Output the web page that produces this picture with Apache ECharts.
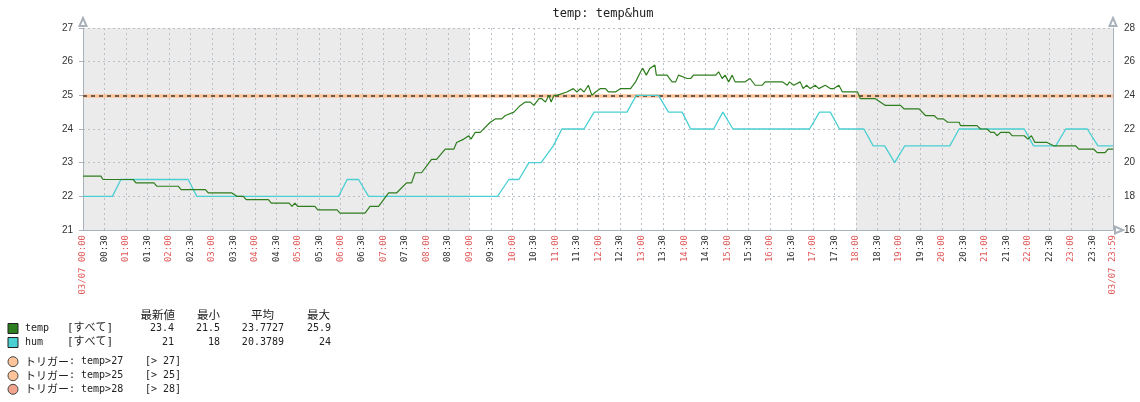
<!DOCTYPE html>
<html>
<head>
<meta charset="utf-8">
<script src="https://cdn.jsdelivr.net/npm/echarts@6/dist/echarts.min.js"></script>
<style>
html,body{margin:0;padding:0;background:#fff;}
#chart{width:1140px;height:402px;}
</style>
</head>
<body>
<div id="chart"></div>
<script>
// ---- data (minutes from 03/07 00:00) ----
const titleText = 'temp: temp&hum';
const tempMinutes = [0,25,28,70,74,99,103,133,137,171,175,208,215,224,228,259,263,288,292,296,300,324,328,355,359,394,401,413,420,427,438,452,459,464,473,487,494,506,518,522,532,539,542,548,555,569,576,585,590,602,611,618,625,630,637,641,646,651,654,658,662,676,685,690,695,700,706,711,716,723,730,734,744,751,765,772,779,782,787,792,799,801,816,823,828,832,844,849,853,884,888,893,897,902,907,911,916,925,932,939,949,953,977,984,987,993,1002,1006,1011,1016,1023,1028,1037,1044,1049,1056,1061,1082,1086,1107,1121,1142,1147,1168,1177,1189,1194,1202,1208,1224,1226,1249,1254,1263,1268,1273,1277,1282,1294,1298,1315,1320,1325,1330,1347,1356,1387,1391,1412,1417,1428,1432,1439];
const tempValues  = [22.6,22.6,22.5,22.5,22.4,22.4,22.3,22.3,22.2,22.2,22.1,22.1,22.0,22.0,21.9,21.9,21.8,21.8,21.7,21.8,21.7,21.7,21.6,21.6,21.5,21.5,21.7,21.7,21.9,22.1,22.1,22.4,22.4,22.7,22.7,23.1,23.1,23.4,23.4,23.6,23.7,23.8,23.7,23.9,23.9,24.2,24.3,24.3,24.4,24.5,24.7,24.8,24.8,24.7,24.9,24.9,24.8,25.0,24.8,25.0,25.0,25.1,25.2,25.1,25.2,25.1,25.3,25.0,25.1,25.2,25.2,25.1,25.1,25.2,25.2,25.4,25.7,25.8,25.6,25.8,25.9,25.6,25.6,25.4,25.4,25.6,25.5,25.5,25.6,25.6,25.7,25.5,25.6,25.4,25.6,25.4,25.4,25.4,25.5,25.3,25.3,25.4,25.4,25.3,25.4,25.3,25.4,25.2,25.3,25.2,25.3,25.2,25.3,25.2,25.2,25.3,25.1,25.1,24.9,24.9,24.7,24.7,24.6,24.6,24.4,24.4,24.3,24.3,24.2,24.2,24.1,24.1,24.0,24.0,23.9,23.9,23.8,23.9,23.9,23.8,23.8,23.7,23.8,23.6,23.6,23.5,23.5,23.4,23.4,23.3,23.3,23.4,23.4];
const humMinutes = [0,41,53,147,159,357,369,385,399,579,595,609,623,640,657,669,700,714,760,773,804,818,837,849,881,894,908,1015,1029,1044,1057,1091,1104,1120,1134,1148,1211,1224,1315,1328,1359,1373,1403,1418,1439];
const humValues  = [18,18,19,19,18,18,19,19,18,18,19,19,20,20,21,22,22,23,23,24,24,23,23,22,22,23,22,22,23,23,22,22,21,21,20,21,21,22,22,21,21,22,22,21,21];
const offHours = [[0,540],[1080,1439]];
const triggerValues = [27,25,28];
const triggerNames = ['トリガー: temp>27','トリガー: temp>25','トリガー: temp>28'];
const triggerTags = ['[> 27]','[> 25]','[> 28]'];
const statHeaders = ['最新値','最小','平均','最大'];
const seriesNames = ['temp','hum'];
const seriesScope = ['[すべて]','[すべて]'];
const tempStats = ['23.4','21.5','23.7727','25.9'];
const humStats = ['21','18','20.3789','24'];
const dateLabel = '03/07';

// ---- styles ----
const TEMP_C = '#2E7D1E', HUM_C = '#4ACFD2';
const MONO = "'DejaVu Sans Mono','Noto Sans CJK JP',monospace";
const CJK = "'Noto Sans CJK JP',sans-serif";
const RED = '#E05A5A', DARK = '#333';
const AXIS_C = '#A9B1BA';
const trigColors = ['#FFC49A','#FFC49A','#F2A48E'];

const zip = (a,b)=>a.map((v,i)=>[v,b[i]]);
const pad = n => (n<10?'0':'')+n;
function fmtMin(v){ return pad(Math.floor(v/60))+':'+pad(v%60); }

const chart = echarts.init(document.getElementById('chart'));

// legend graphics
const g = [];
const hdrRight = [175,220,274,330];
statHeaders.forEach((h,i)=>g.push({type:'text',style:{text:h,x:hdrRight[i],y:315,align:'right',verticalAlign:'middle',font:'11.5px '+CJK,fill:'#222'}}));
const valRight = [174,220,284,331];
const rowsY = [328.5,342.5];
const rowColors = [TEMP_C, HUM_C];
const rowStats = [tempStats, humStats];
seriesNames.forEach((n,r)=>{
  const y = rowsY[r];
  g.push({type:'rect',shape:{x:8,y:y-5,width:10,height:10},style:{fill:rowColors[r],stroke:'#222',lineWidth:1}});
  g.push({type:'text',style:{text:n,x:25,y:y,verticalAlign:'middle',font:'10px '+MONO,fill:'#222'}});
  g.push({type:'text',style:{text:seriesScope[r],x:67,y:y,verticalAlign:'middle',font:'11px '+MONO,fill:'#222'}});
  rowStats[r].forEach((v,i)=>g.push({type:'text',style:{text:v,x:valRight[i],y:y,align:'right',verticalAlign:'middle',font:'10px '+MONO,fill:'#222'}}));
});
const trigY = [361.7,375.7,389.3];
triggerNames.forEach((t,i)=>{
  const y = trigY[i];
  g.push({type:'circle',shape:{cx:13,cy:y,r:5},style:{fill:trigColors[i],stroke:'#444',lineWidth:1}});
  const parts = t.split(':');
  g.push({type:'text',style:{text:'{a|'+parts[0]+'}{b|:'+parts[1]+'}',x:25,y:y,verticalAlign:'middle',
    rich:{a:{fontFamily:CJK,fontSize:11,fill:'#222',color:'#222'},b:{fontFamily:MONO,fontSize:10,fill:'#222',color:'#222'}}}});
  g.push({type:'text',style:{text:triggerTags[i],x:145,y:y,verticalAlign:'middle',font:'10px '+MONO,fill:'#222'}});
});

const option = {
  animation:false,
  backgroundColor:'#fff',
  title:{text:titleText,left:598,top:3,textAlign:'center',textStyle:{fontFamily:MONO,fontSize:12,fontWeight:'normal',color:'#222'}},
  grid:{left:83,right:27,top:28,bottom:172,show:true,backgroundColor:'#fff',borderWidth:0},
  xAxis:{type:'value',min:0,max:1439,interval:30,z:2.5,
    axisLine:{show:true,lineStyle:{color:AXIS_C,width:1},symbol:['none','emptyTriangle'],symbolSize:[7,8],symbolOffset:[0,6]},
    axisTick:{show:false},
    splitLine:{show:true,lineStyle:{color:'#B9C0C7',type:[2,3],width:1}},
    axisLabel:{rotate:90,margin:5,fontFamily:MONO,fontSize:9,showMinLabel:true,showMaxLabel:true,
      formatter:v=>{ if(v===0||v===1439) return dateLabel+' '+fmtMin(v); return fmtMin(v); },
      color:(v)=>{ v=Number(v); return (v===0||v===1439||v%60===0)?RED:DARK; }}
  },
  yAxis:[
    {type:'value',min:21,max:27,interval:1,z:2.5,position:'left',
      axisLine:{show:true,lineStyle:{color:AXIS_C},symbol:['none','emptyTriangle'],symbolSize:[7,8],symbolOffset:[0,6]},
      axisTick:{show:true,length:4,lineStyle:{color:AXIS_C}},
      splitLine:{show:true,lineStyle:{color:'#B9C0C7',type:[2,3],width:1}},
      axisLabel:{margin:10,fontFamily:"'Liberation Sans',Arial,sans-serif",fontSize:10,color:DARK}},
    {type:'value',min:16,max:28,interval:2,z:2.5,position:'right',
      axisLine:{show:true,lineStyle:{color:AXIS_C},symbol:['none','emptyTriangle'],symbolSize:[7,8],symbolOffset:[0,6]},
      axisTick:{show:false},
      splitLine:{show:false},
      axisLabel:{margin:11,fontFamily:"'Liberation Sans',Arial,sans-serif",fontSize:10,color:DARK}}
  ],
  graphic:g,
  series:[
    {name:'bg',type:'line',data:[],z:0,silent:true,
      markArea:{z:0,silent:true,itemStyle:{color:'#EBEBEB',opacity:1},
        data:offHours.map(r=>[{xAxis:r[0]},{xAxis:r[1]}])}},
    {name:'trig',type:'line',data:[],z:1,silent:true,
      markLine:{z:2.6,silent:true,symbol:'none',label:{show:false},animation:false,
        data:[
          {yAxis:triggerValues[1],lineStyle:{color:trigColors[1],width:3.5,type:'solid',opacity:1}},
          {yAxis:triggerValues[1],lineStyle:{color:'#3A3A3A',width:1.6,type:[4,4],opacity:1}}
        ]}},
    {name:'hum',type:'line',yAxisIndex:1,data:zip(humMinutes,humValues),showSymbol:false,z:3,
      lineStyle:{color:HUM_C,width:1.3},itemStyle:{color:HUM_C}},
    {name:'temp',type:'line',yAxisIndex:0,data:zip(tempMinutes,tempValues),showSymbol:false,z:4,
      lineStyle:{color:TEMP_C,width:1.2},itemStyle:{color:TEMP_C}}
  ]
};
chart.setOption(option);
</script>
</body>
</html>
